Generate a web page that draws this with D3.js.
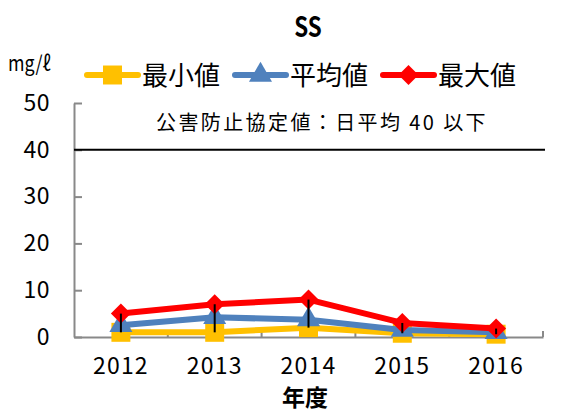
<!DOCTYPE html>
<html lang="ja"><head>
<meta charset="UTF-8">
<script src="https://d3js.org/d3.v7.min.js"></script>
<style>
body{margin:0;background:#fff;}
text{font-family:"Noto Sans CJK JP","DejaVu Sans",sans-serif;}
</style>
</head>
<body>
<svg id="vis" width="561" height="412"></svg>
<script>
// données
var years = ["2012","2013","2014","2015","2016"];
var minVals = [1, 1, 2, 0.8, 0.6];
var meanVals = [2.5, 4.2, 3.7, 1.5, 1.0];
var maxVals = [5, 7, 8, 3, 1.8];
var yTicks = [0,10,20,30,40,50];
var limitValue = 40;
var seriesNames = ["最小値","平均値","最大値"];
var seriesColors = ["#ffc000","#4f81bd","#ff0000"];

var svg = d3.select("#vis");

var x = d3.scaleBand().domain(years).range([74,543]);
var y = d3.scaleLinear().domain([0,50]).range([337,103]);

// axes
var gx = svg.append("g").attr("transform","translate(0,337)");
gx.call(d3.axisBottom(x).tickSize(0).tickPadding(21));
gx.select(".domain").attr("stroke","#898989").attr("stroke-width",2);
gx.selectAll("text").attr("font-size",23).attr("fill","#000").attr("letter-spacing",1.2);
// petites graduations entre les catégories
var bounds = years.map(function(d){return x(d);}).concat([543]);
gx.selectAll(".bt").data(bounds.slice(1)).enter().append("line")
	.attr("x1",function(d){return d;}).attr("x2",function(d){return d;})
	.attr("y1",0).attr("y2",-6).attr("stroke","#898989").attr("stroke-width",2);

var gy = svg.append("g").attr("transform","translate(74,0)");
gy.call(d3.axisLeft(y).tickValues(yTicks).tickSize(-8).tickPadding(24).tickSizeOuter(0));
gy.select(".domain").attr("stroke","#898989").attr("stroke-width",2);
gy.selectAll(".tick line").attr("stroke","#898989").attr("stroke-width",2);
gy.selectAll("text").attr("font-size",23).attr("fill","#000").attr("letter-spacing",0.5);

// ligne de limite
svg.append("line").attr("x1",74).attr("x2",545)
	.attr("y1",y(limitValue)).attr("y2",y(limitValue))
	.attr("stroke","#000").attr("stroke-width",2);

svg.append("text").attr("x",322).attr("y",130).attr("text-anchor","middle")
	.attr("font-size",20).attr("letter-spacing",2.4).text("公害防止協定値：日平均 40 以下");

// séries
var series = [minVals, meanVals, maxVals];
var cx = function(i){return x(years[i]) + x.bandwidth()/2;};
var line = d3.line().x(function(d,i){return cx(i);}).y(function(d){return y(d);});

var sq = d3.symbol().type(d3.symbolSquare).size(360)();
var tri = d3.symbol().type(d3.symbolTriangle).size(230)();
var dia = "M0,-10L10,0L0,10L-10,0Z";
var shapes = [sq, tri, dia];

for (var s=0; s<3; s++){
	svg.append("path").attr("d",line(series[s])).attr("fill","none")
		.attr("stroke",seriesColors[s]).attr("stroke-width",6).attr("stroke-linejoin","round");
	for (var i=0; i<years.length; i++){
		svg.append("path").attr("d",shapes[s]).attr("fill",seriesColors[s])
			.attr("transform","translate("+cx(i)+","+y(series[s][i])+")");
	}
}

// lignes haut-bas
for (var i=0; i<years.length; i++){
	svg.append("line").attr("x1",cx(i)).attr("x2",cx(i))
		.attr("y1",y(maxVals[i])).attr("y2",y(minVals[i]))
		.attr("stroke","#000").attr("stroke-width",2);
}

// titres
svg.append("text").attr("transform","translate(308,37) scale(0.8,1)").attr("text-anchor","middle")
	.attr("font-size",28).attr("font-weight","bold").text("SS");
svg.append("text").attr("transform","translate(8,71) scale(0.85,1)").attr("font-size",21).text("mg/ℓ");
svg.append("text").attr("x",305).attr("y",406).attr("text-anchor","middle")
	.attr("font-size",23).attr("font-weight","bold").text("年度");

// légende
var legX = [87, 235, 383];
for (var s=0; s<3; s++){
	var g = svg.append("g").attr("transform","translate("+legX[s]+",75)");
	g.append("line").attr("x1",0).attr("x2",51).attr("y1",0).attr("y2",0)
		.attr("stroke",seriesColors[s]).attr("stroke-width",6).attr("stroke-linecap","round");
	g.append("path").attr("d",shapes[s]).attr("fill",seriesColors[s]).attr("transform","translate(25.5,0)");
	g.append("text").attr("x",55).attr("y",10).attr("font-size",26).text(seriesNames[s]);
}
</script>
</body></html>
